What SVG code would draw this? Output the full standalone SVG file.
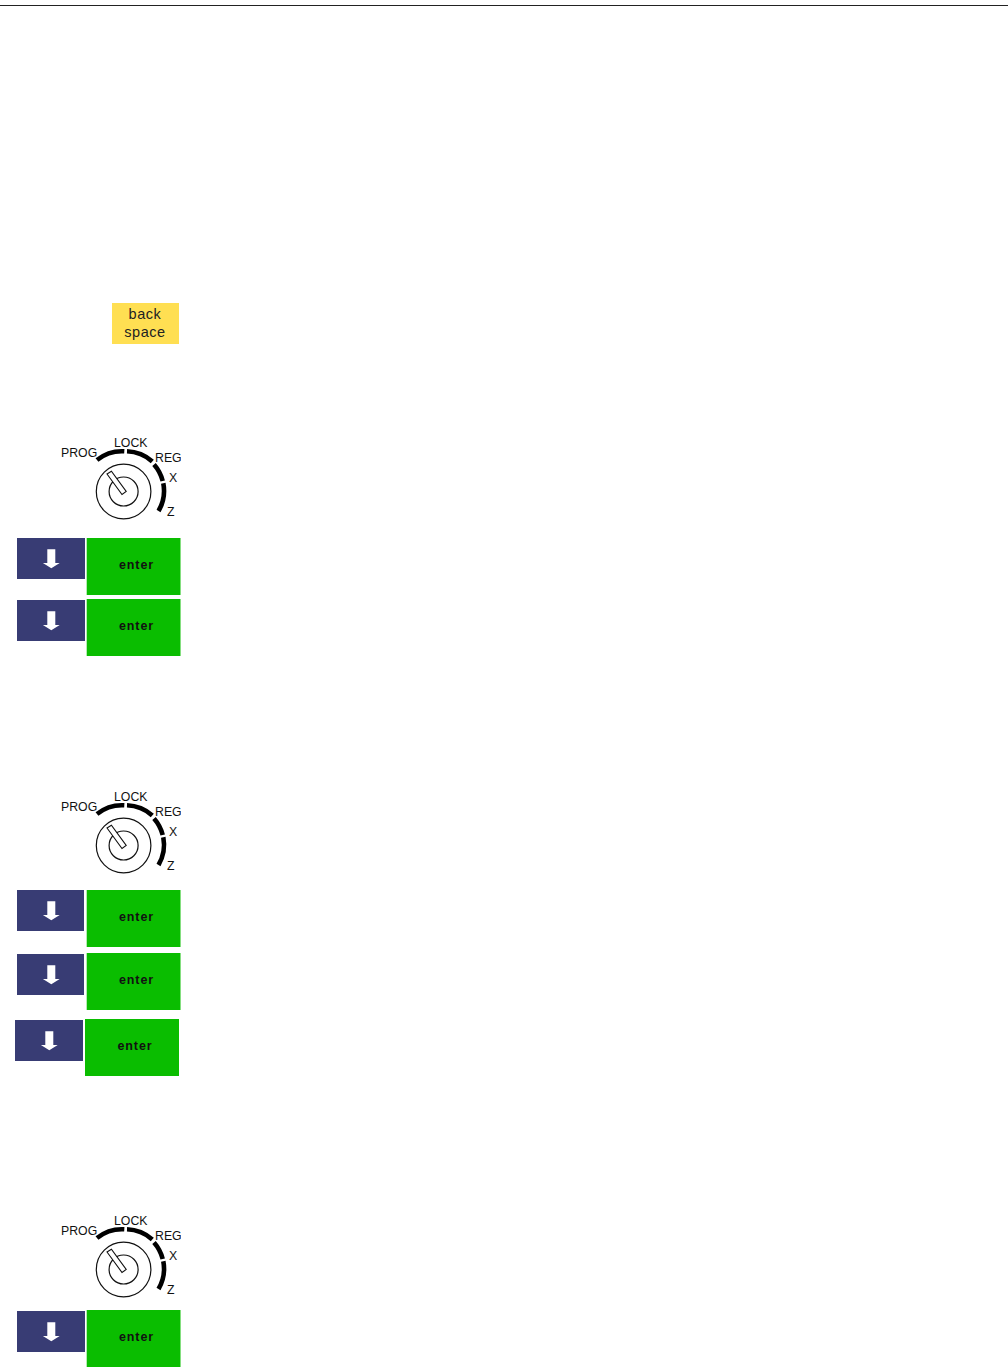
<svg xmlns="http://www.w3.org/2000/svg" width="1008" height="1367" viewBox="0 0 1008 1367">
<style>
.bg{fill:#fff}
.lbl{font-family:"Liberation Sans",Arial,sans-serif;font-size:12.3px;fill:#111}
.ent{font-family:"Liberation Sans",Arial,sans-serif;font-size:12.5px;font-weight:bold;fill:#111;letter-spacing:.9px;text-anchor:middle}
.bs{font-family:"Liberation Sans",Arial,sans-serif;font-size:14.5px;fill:#222;text-anchor:middle;letter-spacing:.55px}
.blue{fill:#383c74}
.green{fill:#0abd00}
.yellow{fill:#ffdf52}
.arrow{fill:#fff}
.ring{fill:none;stroke:#111;stroke-width:1.2}
.arc{fill:none;stroke:#000;stroke-width:4.600}
.slot{fill:#fff;stroke:#111;stroke-width:1.1}
</style>
<defs>
<path id="dn" class="arrow" d="M-4,-8.700H4V5H8.400L0,10.300L-8.400,5H-4Z"/>
<clipPath id="dialclip"><rect x="0" y="430" width="181" height="100"/></clipPath>
</defs>
<rect class="bg" width="1008" height="1367"/>
<g id="connectors"></g>
<rect id="rule" x="0" y="5" width="1008" height="1" fill="#222"/>
<g id="backspace"><rect class="yellow" x="112" y="303" width="67" height="41"/><text class="bs" x="145" y="319">back</text><text class="bs" x="145" y="337">space</text></g>

<g id="dial1" transform="translate(0,0)" clip-path="url(#dialclip)">
<circle class="ring" cx="123.600" cy="491.500" r="27.300"/><circle class="ring" cx="123.600" cy="491.500" r="14.500"/>
<path class="slot" d="M107,474L111.400,471.200L126.200,491.500L122,494.500Z"/>
<path class="arc" d="M97,460A40,40 0 0 1 124.300,451.300"/><path class="arc" d="M127,451.300A40,40 0 0 1 152.300,461.500"/><path class="arc" d="M154,464.500A40,40 0 0 1 162.700,481"/><path class="arc" d="M163.300,483.300A40,40 0 0 1 158.500,511"/>
<text class="lbl" x="61" y="457">PROG</text><text class="lbl" x="114" y="447">LOCK</text><text class="lbl" x="155" y="462">REG</text><text class="lbl" x="169" y="482">X</text><text class="lbl" x="167" y="516">Z</text>
</g>
<g id="dial2" transform="translate(0,354)" clip-path="url(#dialclip)">
<circle class="ring" cx="123.600" cy="491.500" r="27.300"/><circle class="ring" cx="123.600" cy="491.500" r="14.500"/>
<path class="slot" d="M107,474L111.400,471.200L126.200,491.500L122,494.500Z"/>
<path class="arc" d="M97,460A40,40 0 0 1 124.300,451.300"/><path class="arc" d="M127,451.300A40,40 0 0 1 152.300,461.500"/><path class="arc" d="M154,464.500A40,40 0 0 1 162.700,481"/><path class="arc" d="M163.300,483.300A40,40 0 0 1 158.500,511"/>
<text class="lbl" x="61" y="457">PROG</text><text class="lbl" x="114" y="447">LOCK</text><text class="lbl" x="155" y="462">REG</text><text class="lbl" x="169" y="482">X</text><text class="lbl" x="167" y="516">Z</text>
</g>
<g id="dial3" transform="translate(0,778)" clip-path="url(#dialclip)">
<circle class="ring" cx="123.600" cy="491.500" r="27.300"/><circle class="ring" cx="123.600" cy="491.500" r="14.500"/>
<path class="slot" d="M107,474L111.400,471.200L126.200,491.500L122,494.500Z"/>
<path class="arc" d="M97,460A40,40 0 0 1 124.300,451.300"/><path class="arc" d="M127,451.300A40,40 0 0 1 152.300,461.500"/><path class="arc" d="M154,464.500A40,40 0 0 1 162.700,481"/><path class="arc" d="M163.300,483.300A40,40 0 0 1 158.500,511"/>
<text class="lbl" x="61" y="457">PROG</text><text class="lbl" x="114" y="447">LOCK</text><text class="lbl" x="155" y="462">REG</text><text class="lbl" x="169" y="482">X</text><text class="lbl" x="167" y="516">Z</text>
</g>

<g id="down1"><rect class="blue" x="17" y="538" width="68" height="41"/><use href="#dn" x="51.300" y="558"/></g>
<g id="enter1"><rect class="green" x="86.700" y="538" width="93.800" height="57"/><text class="ent" x="136.500" y="569">enter</text></g>
<g id="down2"><rect class="blue" x="17" y="600" width="68" height="41"/><use href="#dn" x="51.300" y="620"/></g>
<g id="enter2"><rect class="green" x="86.700" y="599" width="93.800" height="57"/><text class="ent" x="136.500" y="630">enter</text></g>

<g id="down3"><rect class="blue" x="17" y="890" width="67" height="41"/><use href="#dn" x="51.300" y="910"/></g>
<g id="enter3"><rect class="green" x="86.700" y="890" width="93.800" height="57"/><text class="ent" x="136.500" y="921">enter</text></g>
<g id="down4"><rect class="blue" x="17" y="954" width="67" height="41"/><use href="#dn" x="51.300" y="974"/></g>
<g id="enter4"><rect class="green" x="86.700" y="953" width="93.800" height="57"/><text class="ent" x="136.500" y="984">enter</text></g>
<g id="down5"><rect class="blue" x="15" y="1020" width="68" height="41"/><use href="#dn" x="49.300" y="1040"/></g>
<g id="enter5"><rect class="green" x="85" y="1019" width="94" height="57"/><text class="ent" x="135" y="1050">enter</text></g>

<g id="down6"><rect class="blue" x="17" y="1311" width="68" height="41"/><use href="#dn" x="51.300" y="1331"/></g>
<g id="enter6"><rect class="green" x="86.700" y="1310" width="93.800" height="57"/><text class="ent" x="136.500" y="1341">enter</text></g>
</svg>
